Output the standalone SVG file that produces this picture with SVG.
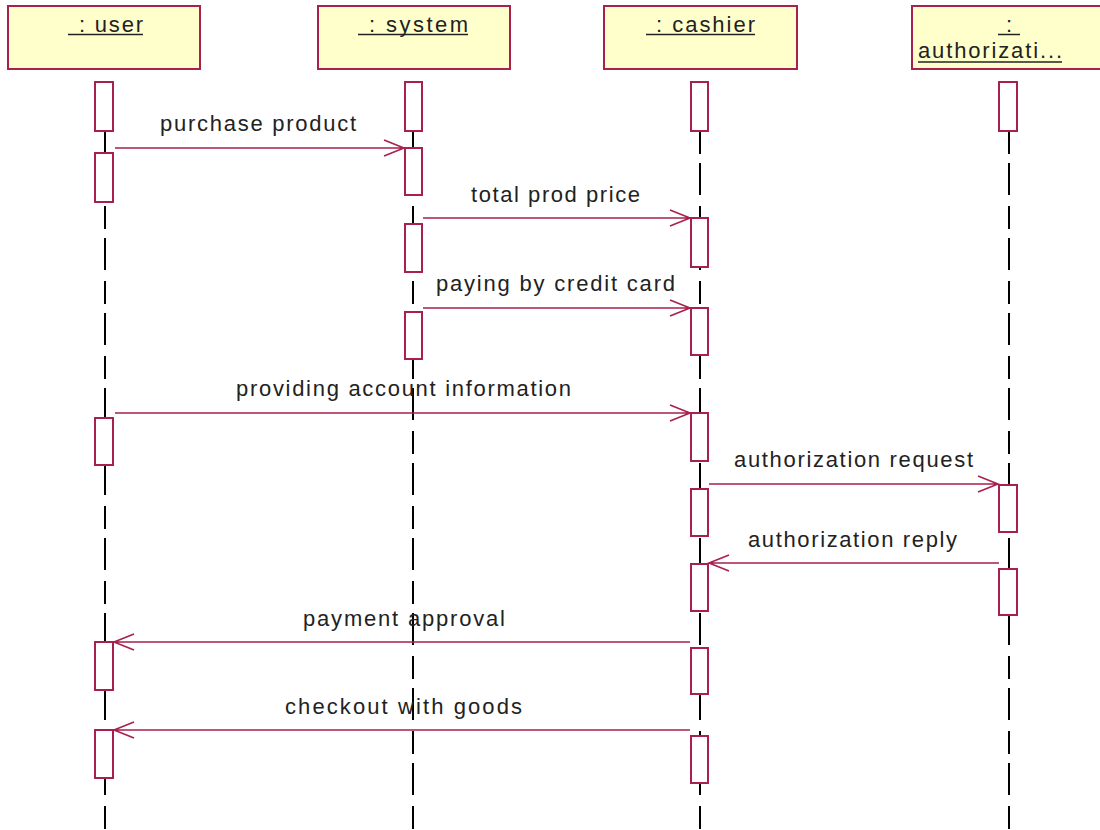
<svg xmlns="http://www.w3.org/2000/svg" width="1100" height="830" viewBox="0 0 1100 830">
<style>
.hdr{fill:#FFFFCC;stroke:#A8204C;stroke-width:2}
.act{fill:#FFFFFF;stroke:#A8204C;stroke-width:2}
.life{stroke:#000;stroke-width:2;stroke-dasharray:23 9 32 11}
.msg{stroke:#A8204C;stroke-width:1.6;fill:none}
.lbl{font-family:"Liberation Sans",Arial,sans-serif;font-size:22px;fill:#222}
.ul{stroke:#222;stroke-width:1.5}
</style>
<rect width="1100" height="830" fill="#fff"/>
<g id="lifelines">
<line class="life" x1="105" y1="131" x2="105" y2="830"/>
<line class="life" x1="413" y1="131" x2="413" y2="830"/>
<line class="life" x1="700" y1="131" x2="700" y2="830"/>
<line class="life" x1="1009" y1="131" x2="1009" y2="830"/>
</g>
<g id="user">
<rect class="hdr" x="8" y="6" width="192" height="63"/>
<text class="lbl" x="79" y="32" textLength="64" lengthAdjust="spacing">: user</text>
<line class="ul" x1="68" y1="34.5" x2="143" y2="34.5"/>
<rect class="act" x="95" y="82" width="18" height="49"/>
<rect class="act" x="95" y="153" width="18" height="49"/>
<rect class="act" x="95" y="418" width="18" height="47"/>
<rect class="act" x="95" y="642" width="18" height="48"/>
<rect class="act" x="95" y="730" width="18" height="48"/>
</g>
<g id="system">
<rect class="hdr" x="318" y="6" width="192" height="63"/>
<text class="lbl" x="369" y="32" textLength="99" lengthAdjust="spacing">: system</text>
<line class="ul" x1="358" y1="34.5" x2="468" y2="34.5"/>
<rect class="act" x="405" y="82" width="17" height="49"/>
<rect class="act" x="405" y="148" width="17" height="47"/>
<rect class="act" x="405" y="224" width="17" height="48"/>
<rect class="act" x="405" y="312" width="17" height="47"/>
</g>
<g id="cashier">
<rect class="hdr" x="604" y="6" width="193" height="63"/>
<text class="lbl" x="656" y="32" textLength="99" lengthAdjust="spacing">: cashier</text>
<line class="ul" x1="646" y1="34.5" x2="755" y2="34.5"/>
<rect class="act" x="691" y="82" width="17" height="49"/>
<rect class="act" x="691" y="218" width="17" height="49"/>
<rect class="act" x="691" y="308" width="17" height="47"/>
<rect class="act" x="691" y="413" width="17" height="48"/>
<rect class="act" x="691" y="489" width="17" height="47"/>
<rect class="act" x="691" y="564" width="17" height="47"/>
<rect class="act" x="691" y="648" width="17" height="46"/>
<rect class="act" x="691" y="736" width="17" height="47"/>
</g>
<g id="authorization">
<rect class="hdr" x="912" y="6" width="194" height="63"/>
<text class="lbl" x="1006" y="32">:</text>
<line class="ul" x1="998" y1="34.5" x2="1020" y2="34.5"/>
<text class="lbl" x="918" y="58" textLength="144" lengthAdjust="spacing">authorizati...</text>
<line class="ul" x1="918" y1="62" x2="1062" y2="62"/>
<rect class="act" x="999" y="82" width="18" height="49"/>
<rect class="act" x="999" y="485" width="18" height="47"/>
<rect class="act" x="999" y="569" width="18" height="46"/>
</g>
<g id="connectors">
<path class="msg" d="M115,148 H404 M384,140 L404,148 L384,156"/>
<path class="msg" d="M423,218 H690 M670,210 L690,218 L670,226"/>
<path class="msg" d="M423,308 H690 M670,300 L690,308 L670,316"/>
<path class="msg" d="M115,413 H690 M670,405 L690,413 L670,421"/>
<path class="msg" d="M709,484 H998 M978,476 L998,484 L978,492"/>
<path class="msg" d="M999,563 H709 M729,555 L709,563 L729,571"/>
<path class="msg" d="M690,642 H114 M134,634 L114,642 L134,650"/>
<path class="msg" d="M690,730 H114 M134,722 L114,730 L134,738"/>
<text class="lbl" x="160" y="131" textLength="196" lengthAdjust="spacing">purchase product</text>
<text class="lbl" x="471" y="202" textLength="169" lengthAdjust="spacing">total prod price</text>
<text class="lbl" x="436" y="291" textLength="239" lengthAdjust="spacing">paying by credit card</text>
<text class="lbl" x="236" y="396" textLength="335" lengthAdjust="spacing">providing account information</text>
<text class="lbl" x="734" y="467" textLength="239" lengthAdjust="spacing">authorization request</text>
<text class="lbl" x="748" y="547" textLength="209" lengthAdjust="spacing">authorization reply</text>
<text class="lbl" x="303" y="626" textLength="202" lengthAdjust="spacing">payment approval</text>
<text class="lbl" x="285" y="714" textLength="237" lengthAdjust="spacing">checkout with goods</text>
</g>
</svg>
